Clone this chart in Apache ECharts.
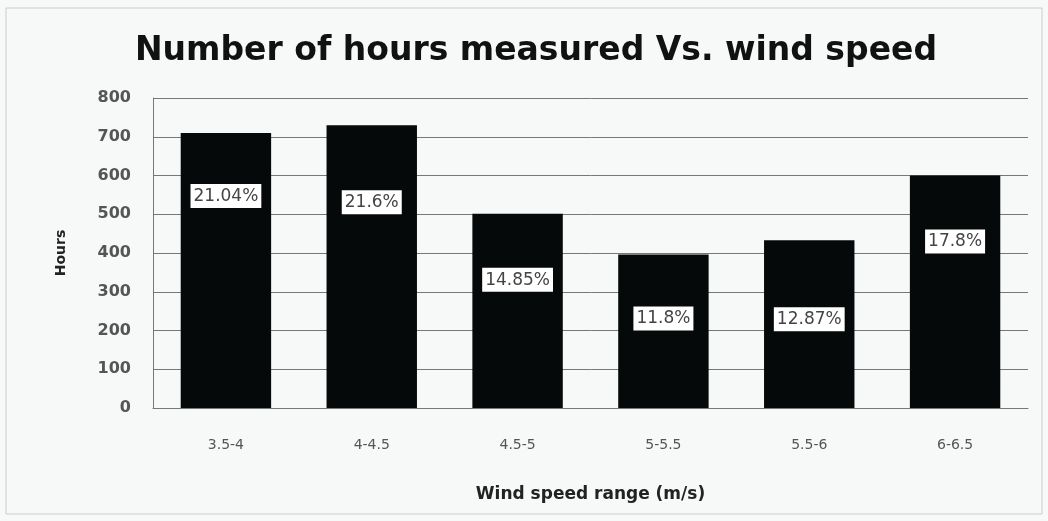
<!DOCTYPE html>
<html>
<head>
<meta charset="utf-8">
<script src="https://cdn.jsdelivr.net/npm/echarts@6/dist/echarts.min.js"></script>
<style>
html, body { margin: 0; padding: 0; background: #f7f9f9; }
#chart { width: 1048px; height: 521px; }
</style>
</head>
<body>
<div id="chart"></div>
<script>
// wind speed bins and hours measured
const categories = ['3.5-4', '4-4.5', '4.5-5', '5-5.5', '5.5-6', '6-6.5']
const hours = [710, 730, 501, 396, 433, 600]
const shares = ['21.04%', '21.6%', '14.85%', '11.8%', '12.87%', '17.8%']
const labelDistance = [51, 65, 54, 52, 67, 54]

const seriesData = hours.map((v, i) => ({
    value: v,
    label: { distance: labelDistance[i] }
}))

const myChart = echarts.init(document.getElementById('chart'))
const option = {
    backgroundColor: '#f7f9f9',
    animation: false,
    title: {
        text: 'Number of hours measured Vs. wind speed',
        left: 531,
        textAlign: 'center',
        top: 30,
        textStyle: {
            color: '#111',
            fontFamily: 'DejaVu Sans',
            fontWeight: 'bold',
            fontSize: 33
        }
    },
    graphic: [{
        type: 'rect',
        shape: { x: 6, y: 8, width: 1036, height: 506 },
        style: { fill: 'none', stroke: '#c8cccc', lineWidth: 1 }
    }],
    grid: {
        left: 153,
        right: 20,
        top: 98,
        bottom: 113
    },
    xAxis: {
        type: 'category',
        data: categories,
        name: 'Wind speed range (m/s)',
        nameLocation: 'middle',
        nameGap: 78,
        nameTextStyle: {
            color: '#222',
            fontFamily: 'DejaVu Sans',
            fontWeight: 'bold',
            fontSize: 17
        },
        axisLine: { lineStyle: { color: '#777' } },
        axisTick: { show: false },
        axisLabel: {
            color: '#555',
            fontFamily: 'DejaVu Sans',
            fontSize: 14,
            margin: 30
        }
    },
    yAxis: {
        type: 'value',
        min: 0,
        max: 800,
        interval: 100,
        name: 'Hours',
        nameLocation: 'middle',
        nameGap: 85,
        nameTextStyle: {
            color: '#222',
            fontFamily: 'DejaVu Sans',
            fontWeight: 'bold',
            fontSize: 14
        },
        axisLine: { show: true, lineStyle: { color: '#777' } },
        axisTick: { show: false },
        axisLabel: {
            color: '#555',
            fontFamily: 'DejaVu Sans',
            fontWeight: 'bold',
            fontSize: 16,
            margin: 22
        },
        splitLine: { lineStyle: { color: '#777', width: 1 } }
    },
    series: [{
        type: 'bar',
        data: seriesData,
        barWidth: '62%',
        itemStyle: { color: '#050909' },
        label: {
            show: true,
            position: 'insideTop',
            formatter: (p) => shares[p.dataIndex],
            color: '#444',
            backgroundColor: '#ffffff',
            fontFamily: 'DejaVu Sans',
            fontSize: 17,
            padding: [4, 3, 3, 3]
        }
    }]
}
myChart.setOption(option)
</script>
</body>
</html>
